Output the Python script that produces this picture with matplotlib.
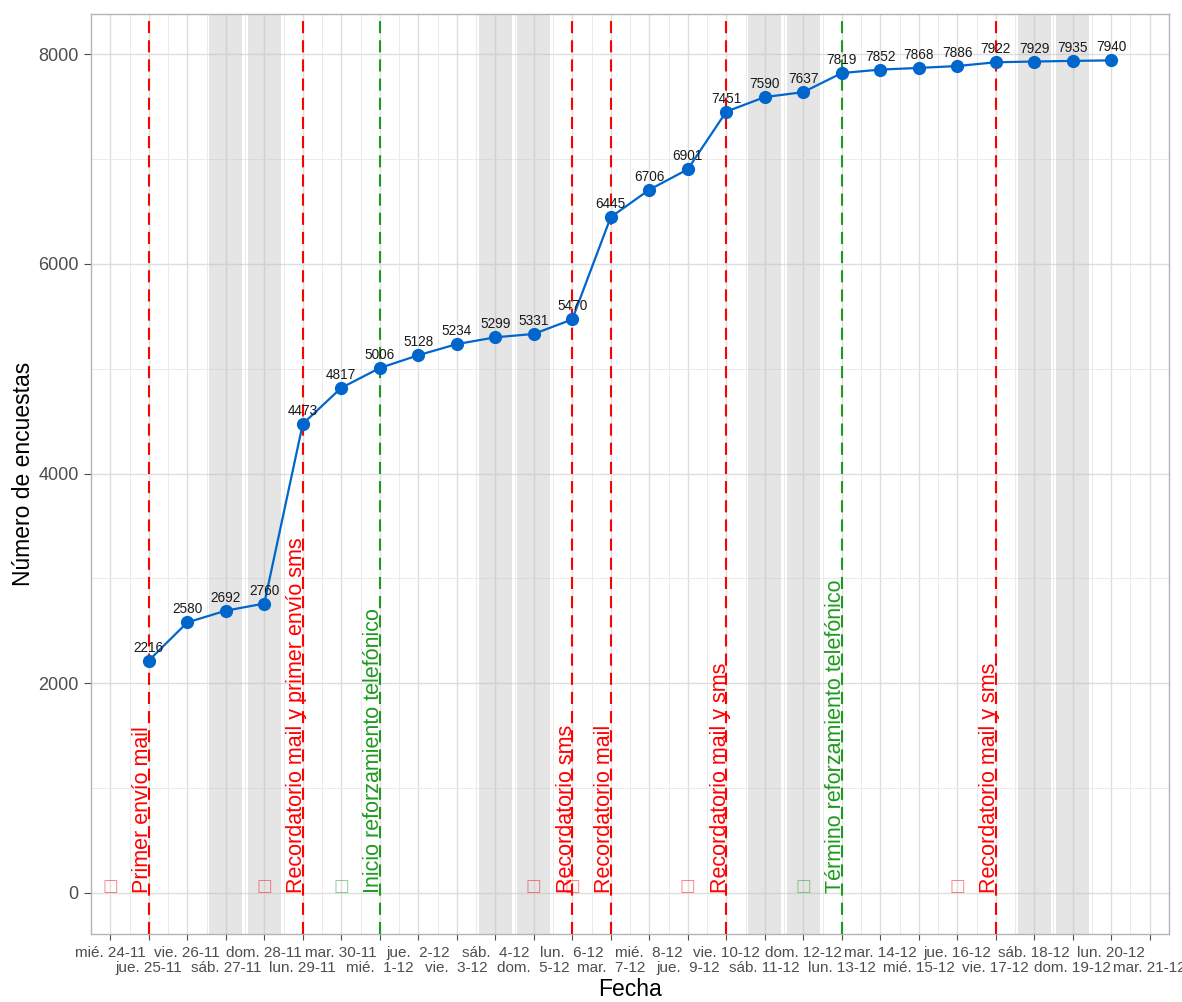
import matplotlib
matplotlib.use("Agg")
import matplotlib.pyplot as plt
import matplotlib.transforms as mtransforms
import numpy as np

plt.rcParams['font.family'] = ['Liberation Sans', 'DejaVu Sans']

# Days shown on the x axis (24-11 to 21-12)
dias = ["24-11", "25-11", "26-11", "27-11", "28-11", "29-11", "30-11",
        "1-12", "2-12", "3-12", "4-12", "5-12", "6-12", "7-12", "8-12",
        "9-12", "10-12", "11-12", "12-12", "13-12", "14-12", "15-12",
        "16-12", "17-12", "18-12", "19-12", "20-12", "21-12"]
etiquetas = ["mié. 24-11", "jue. 25-11", "vie. 26-11", "sáb. 27-11", "dom. 28-11",
             "lun. 29-11", "mar. 30-11", "mié.  1-12", "jue.  2-12", "vie.  3-12",
             "sáb.  4-12", "dom.  5-12", "lun.  6-12", "mar.  7-12", "mié.  8-12",
             "jue.  9-12", "vie. 10-12", "sáb. 11-12", "dom. 12-12", "lun. 13-12",
             "mar. 14-12", "mié. 15-12", "jue. 16-12", "vie. 17-12", "sáb. 18-12",
             "dom. 19-12", "lun. 20-12", "mar. 21-12"]

# Cumulative survey counts
fechas = ["25-11", "26-11", "27-11", "28-11", "29-11", "30-11", "1-12", "2-12",
          "3-12", "4-12", "5-12", "6-12", "7-12", "8-12", "9-12", "10-12",
          "11-12", "12-12", "13-12", "14-12", "15-12", "16-12", "17-12",
          "18-12", "19-12", "20-12"]
encuestas = [2216, 2580, 2692, 2760, 4473, 4817, 5006, 5128, 5234, 5299, 5331,
             5470, 6445, 6706, 6901, 7451, 7590, 7637, 7819, 7852, 7868, 7886,
             7922, 7929, 7935, 7940]

# Weekends
fines_semana = ["27-11", "28-11", "4-12", "5-12", "11-12", "12-12", "18-12", "19-12"]

# Events (vertical lines)
evento_fecha = ["25-11", "29-11", "1-12", "6-12", "7-12", "10-12", "13-12", "17-12"]
evento_texto = ["Primer envío mail", "Recordatorio mail y primer envío sms",
                "Inicio reforzamiento telefónico", "Recordatorio sms",
                "Recordatorio mail", "Recordatorio mail y sms",
                "Término reforzamiento telefónico", "Recordatorio mail y sms"]
evento_tipo = ["envio", "envio", "telefono", "envio", "envio", "envio",
               "telefono", "envio"]
colores_tipo = {"envio": "#FF0000", "telefono": "#1E9A1E"}

pos = {d: i for i, d in enumerate(dias)}
x = [pos[f] for f in fechas]

fig = plt.figure(figsize=(11.82, 10.02), dpi=100)
ax = fig.add_axes([0.077, 0.0679, 0.912, 0.918])

ax.set_xlim(-0.23, 27.25)
ax.set_ylim(-391, 8381)

# grid
ax.set_xticks(range(len(dias)))
ax.set_xticks(np.arange(-0.5, len(dias), 1), minor=True)
ax.set_yticks([0, 2000, 4000, 6000, 8000])
ax.set_yticks([1000, 3000, 5000, 7000], minor=True)
ax.grid(True, which='major', color='#DEDEDE', linewidth=1.0)
ax.grid(True, which='minor', color='#EBEBEB', linewidth=0.7)
ax.set_axisbelow(True)

for f in fines_semana:
    ax.axvspan(pos[f] - 0.43, pos[f] + 0.43, color='#BEBEBE', alpha=0.4,
               linewidth=0, zorder=1)

ax.plot(x, encuestas, color='#0066CC', linewidth=1.6, marker='o',
        markersize=8.5, zorder=4)
for xi, yi in zip(x, encuestas):
    ax.annotate(str(yi), (xi, yi), xytext=(0, 6), textcoords='offset pixels',
                ha='center', va='bottom', fontsize=9.8, color='#1A1A1A', zorder=5)

shift = mtransforms.offset_copy(ax.transData, fig=fig, x=-0.5, y=0, units='dots')
for f, txt, tipo in zip(evento_fecha, evento_texto, evento_tipo):
    c = colores_tipo[tipo]
    xe = pos[f]
    ax.axvline(xe, color=c, linestyle=(0, (5.8, 3.4)), linewidth=1.5, zorder=3)
    ax.text(xe, 0, txt, transform=shift, rotation=90, rotation_mode='anchor',
            ha='left', va='baseline', fontsize=15.5, color=c, zorder=3)
    ax.text(xe - 1, 20, "\u25A1", ha='center', va='baseline', fontsize=12,
            color=c, alpha=0.5, family='DejaVu Sans', zorder=3)

ax.set_xticklabels([e if i % 2 == 0 else "\n" + e for i, e in enumerate(etiquetas)],
                   fontsize=11, color='#4D4D4D')
ax.tick_params(axis='y', labelsize=13, colors='#4D4D4D', length=5, width=0.8, pad=4)
ax.tick_params(axis='x', colors='#4D4D4D', length=4, width=0.8, pad=4.5)
ax.tick_params(which='minor', length=0)
for lab in ax.get_xticklabels():
    lab.set_linespacing(1.15)
for s in ax.spines.values():
    s.set_color('#B3B3B3')
    s.set_linewidth(1.0)

ax.set_xlabel("Fecha", fontsize=16.5, labelpad=2)
ax.set_ylabel("Número de encuestas", fontsize=16.5, labelpad=2)

fig.savefig("out.png", dpi=100)
